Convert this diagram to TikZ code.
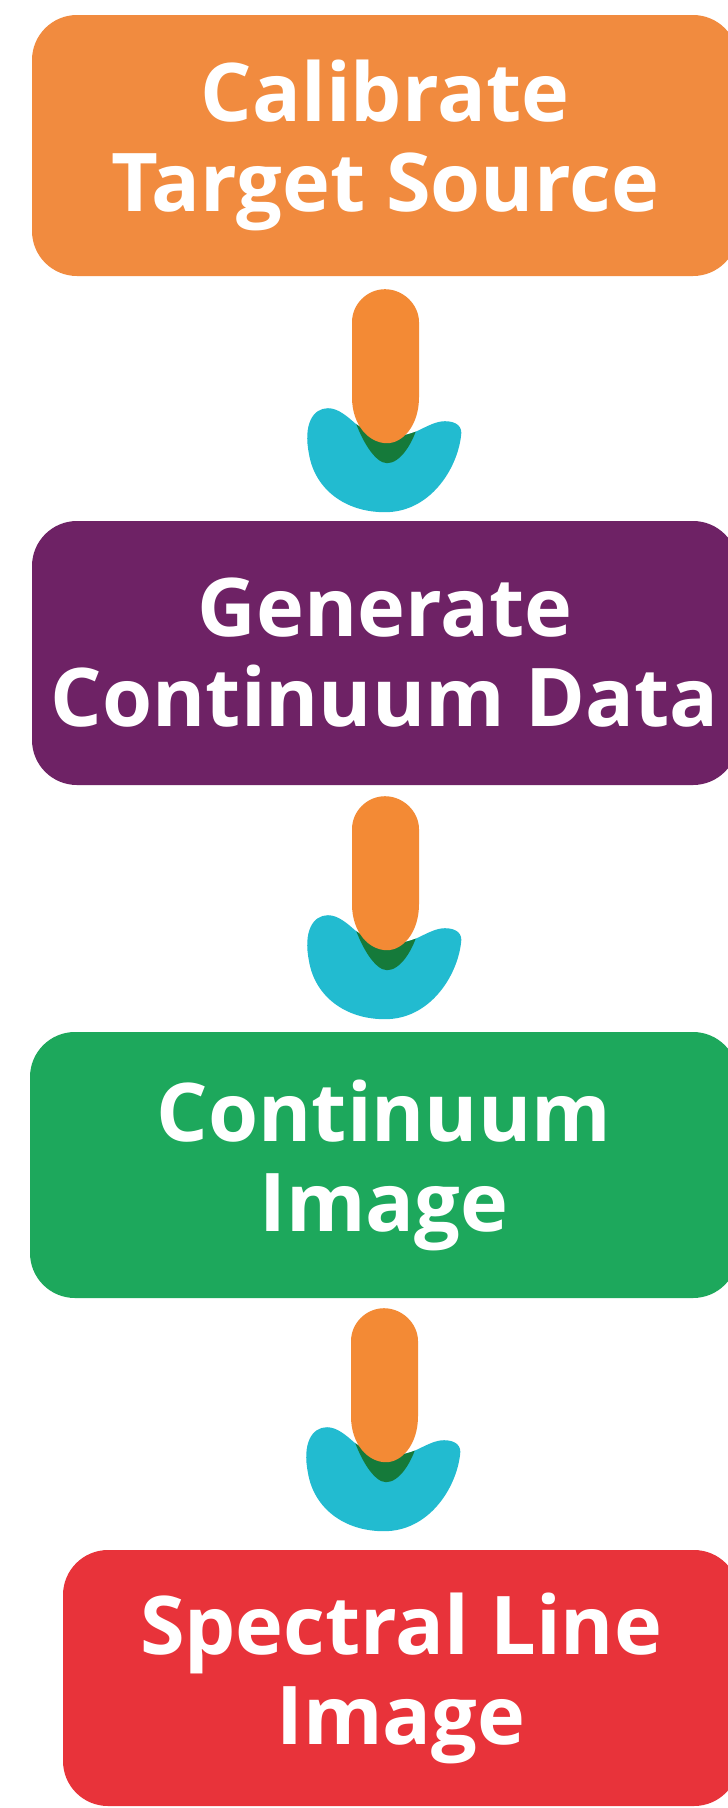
\documentclass[tikz,border=0pt]{standalone}
\usepackage{fontspec}
\setmainfont{Open Sans}
\definecolor{cOrange}{HTML}{F18B3F}
\definecolor{cPurple}{HTML}{6E2265}
\definecolor{cGreen}{HTML}{1DA85C}
\definecolor{cRed}{HTML}{E8333A}
\definecolor{cCyan}{HTML}{22BBD0}
\definecolor{cDark}{HTML}{157A3A}
\definecolor{cPill}{HTML}{F38A35}
\tikzset{
  box/.style={rounded corners=45pt, minimum width=706pt, inner sep=0pt,
    text=white, align=center,
    font=\bfseries\fontsize{81}{90}\selectfont},
}
\newcommand\pillpath{(-33,33) .. controls (-33,15) and (-18,0) .. (0,0)
  .. controls (18,0) and (34,15) .. (34,33) -- (34,108)
  .. controls (34,136) and (18,154) .. (2,154)
  .. controls (-16,154) and (-33,136) .. (-33,108) -- cycle}
\newcommand\shadowpath{(-33,90) -- (-33,122)
  .. controls (-25,150) and (-10,174) .. (2,174)
  .. controls (15,174) and (28,155) .. (34,132) -- (34,90) -- cycle}
\newcommand\crescentpath{(-57,119) .. controls (-47,119) and (-38,127) .. (-30,134)
  .. controls (-10,150) and (15,150) .. (34,141)
  .. controls (44,136) and (52,132) .. (60,132)
  .. controls (71,132) and (78,137) .. (76,147)
  .. controls (72,180) and (45,223) .. (0,223)
  .. controls (-40,223) and (-70,200) .. (-76,165)
  .. controls (-82,135) and (-72,119) .. (-57,119) -- cycle}
\newcommand\flowarrow[1]{%
  \begin{scope}[shift={#1}]
    \fill[cCyan] \crescentpath;
    \begin{scope}
      \clip \crescentpath;
      \fill[cDark] \shadowpath;
    \end{scope}
    \fill[cPill] \pillpath;
  \end{scope}}
\begin{document}
\begin{tikzpicture}[x=1pt,y=-1pt]
\useasboundingbox[fill=white] (0,0) rectangle (728,1808);
\node[box, fill=cOrange, minimum height=261pt] (b1) at (385,145.5) {Calibrate\\Target Source};
\node[box, fill=cPurple, minimum height=264pt] (b2) at (385,653) {Generate\\Continuum Data};
\node[box, fill=cGreen, minimum height=266pt, minimum width=708pt] (b3) at (384,1165) {Continuum\\Image};
\node[box, fill=cRed, minimum height=256pt, minimum width=676pt] (b4) at (401,1678) {Spectral Line\\Image};
\path (b1.south) ++(0,13) coordinate (a1);
\path (b2.south) ++(0,11) coordinate (a2);
\path (b3.south) ++(0,10) coordinate (a3);
\flowarrow{(a1)}
\flowarrow{(a2)}
\flowarrow{(a3)}
\end{tikzpicture}
\end{document}
